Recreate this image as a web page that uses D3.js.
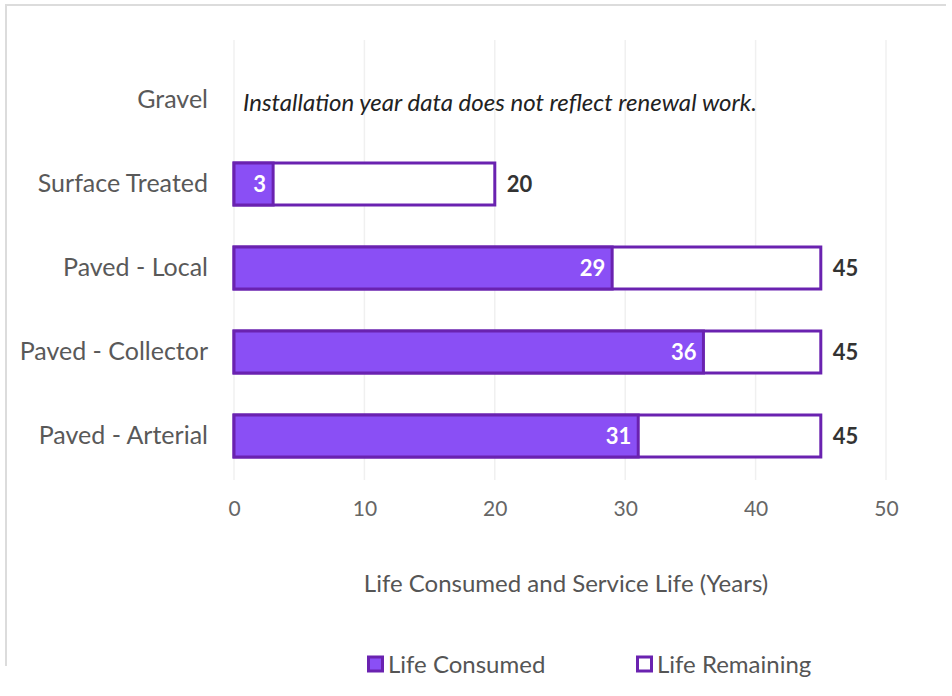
<!DOCTYPE html>
<html>
<head>
<meta charset="utf-8">
<script src="https://cdn.jsdelivr.net/npm/d3@7"></script>
<style>
  html, body { margin: 0; padding: 0; background: #fff; }
  svg { display: block; font-family: Lato, "Open Sans", sans-serif; }
</style>
</head>
<body>
<svg id="chart" width="952" height="696"></svg>
<script>
// Road surface classes, top to bottom
const categories = ["Gravel", "Surface Treated", "Paved - Local", "Paved - Collector", "Paved - Arterial"];
// Average life consumed (years); Gravel has no value
const lifeConsumed = [null, 3, 29, 36, 31];
// Service life (years)
const serviceLife = [null, 20, 45, 45, 45];
const xTicks = [0, 10, 20, 30, 40, 50];
const note = "Installation year data does not reflect renewal work.";
const axisTitle = "Life Consumed and Service Life (Years)";
const legendLabels = ["Life Consumed", "Life Remaining"];

const svg = d3.select("#chart");
const purple = "#8a4ff5";
const edge = "#6a22b0";
const font = "Lato, sans-serif";

// outer frame
svg.append("path")
  .attr("d", "M6,666 L6,5 L946,5")
  .attr("fill", "none").attr("stroke", "#dcdcdc").attr("stroke-width", 2);

const x = d3.scaleLinear().domain([0, 50]).range([234, 886]);
const y = d3.scaleBand().domain(categories).range([58, 478])
  .paddingInner(0.5).paddingOuter(0.25);

// vertical gridlines
svg.append("g").selectAll("line").data(xTicks).join("line")
  .attr("x1", d => x(d)).attr("x2", d => x(d))
  .attr("y1", 40).attr("y2", 480)
  .attr("stroke", "#f0f0f0").attr("stroke-width", 1.5);

// x axis tick labels
const xAxis = d3.axisBottom(x).tickValues(xTicks).tickSize(0).tickPadding(0);
const gx = svg.append("g").attr("transform", "translate(0,501)").call(xAxis);
gx.select(".domain").remove();
gx.selectAll("text")
  .attr("font-size", 21).attr("fill", "#666").attr("font-family", font)
  .attr("dy", "0.71em");

// category labels
const yAxis = d3.axisLeft(y).tickSize(0).tickPadding(26);
const gy = svg.append("g").attr("transform", `translate(${x(0)},0)`).call(yAxis);
gy.select(".domain").remove();
gy.selectAll("text")
  .attr("font-size", 25).attr("fill", "#595959").attr("font-family", font);

const rows = categories.map((c, i) => ({ c, consumed: lifeConsumed[i], life: serviceLife[i] }))
  .filter(d => d.life != null);

// service life outline (life remaining)
svg.append("g").selectAll("rect").data(rows).join("rect")
  .attr("x", x(0)).attr("y", d => y(d.c))
  .attr("width", d => x(d.life) - x(0)).attr("height", y.bandwidth())
  .attr("fill", "#fff").attr("stroke", edge).attr("stroke-width", 3);

// life consumed bars
svg.append("g").selectAll("rect").data(rows).join("rect")
  .attr("x", x(0)).attr("y", d => y(d.c))
  .attr("width", d => x(d.consumed) - x(0)).attr("height", y.bandwidth())
  .attr("fill", purple).attr("stroke", edge).attr("stroke-width", 3);

// consumed labels inside bars
svg.append("g").selectAll("text").data(rows).join("text")
  .attr("x", d => x(d.consumed) - 7)
  .attr("y", d => y(d.c) + y.bandwidth() / 2)
  .attr("dy", "0.36em").attr("text-anchor", "end")
  .attr("font-size", 22).attr("font-weight", "bold").attr("fill", "#fff")
  .text(d => d.consumed);

// service life labels
svg.append("g").selectAll("text").data(rows).join("text")
  .attr("x", d => x(d.life) + 12)
  .attr("y", d => y(d.c) + y.bandwidth() / 2)
  .attr("dy", "0.36em")
  .attr("font-size", 22).attr("font-weight", "bold").attr("fill", "#333")
  .text(d => d.life);

// note on the Gravel row
svg.append("text")
  .attr("x", 243).attr("y", y("Gravel") + y.bandwidth() / 2 + 2)
  .attr("dy", "0.36em")
  .attr("font-size", 24).attr("font-style", "italic").attr("fill", "#222")
  .text(note);

// axis title
svg.append("text")
  .attr("x", 566).attr("y", 583).attr("dy", "0.36em").attr("text-anchor", "middle")
  .attr("font-size", 24).attr("fill", "#555")
  .text(axisTitle);

// legend
const legend = svg.append("g");
const items = [
  { label: legendLabels[0], x: 367, fill: purple },
  { label: legendLabels[1], x: 636, fill: "#fff" }
];
const li = legend.selectAll("g").data(items).join("g")
  .attr("transform", d => `translate(${d.x},664)`);
li.append("rect")
  .attr("x", 1.5).attr("y", -7).attr("width", 14).attr("height", 14)
  .attr("fill", d => d.fill).attr("stroke", edge).attr("stroke-width", 3);
li.append("text")
  .attr("x", 21).attr("dy", "0.36em")
  .attr("font-size", 24).attr("fill", "#555")
  .text(d => d.label);
</script>
</body>
</html>
